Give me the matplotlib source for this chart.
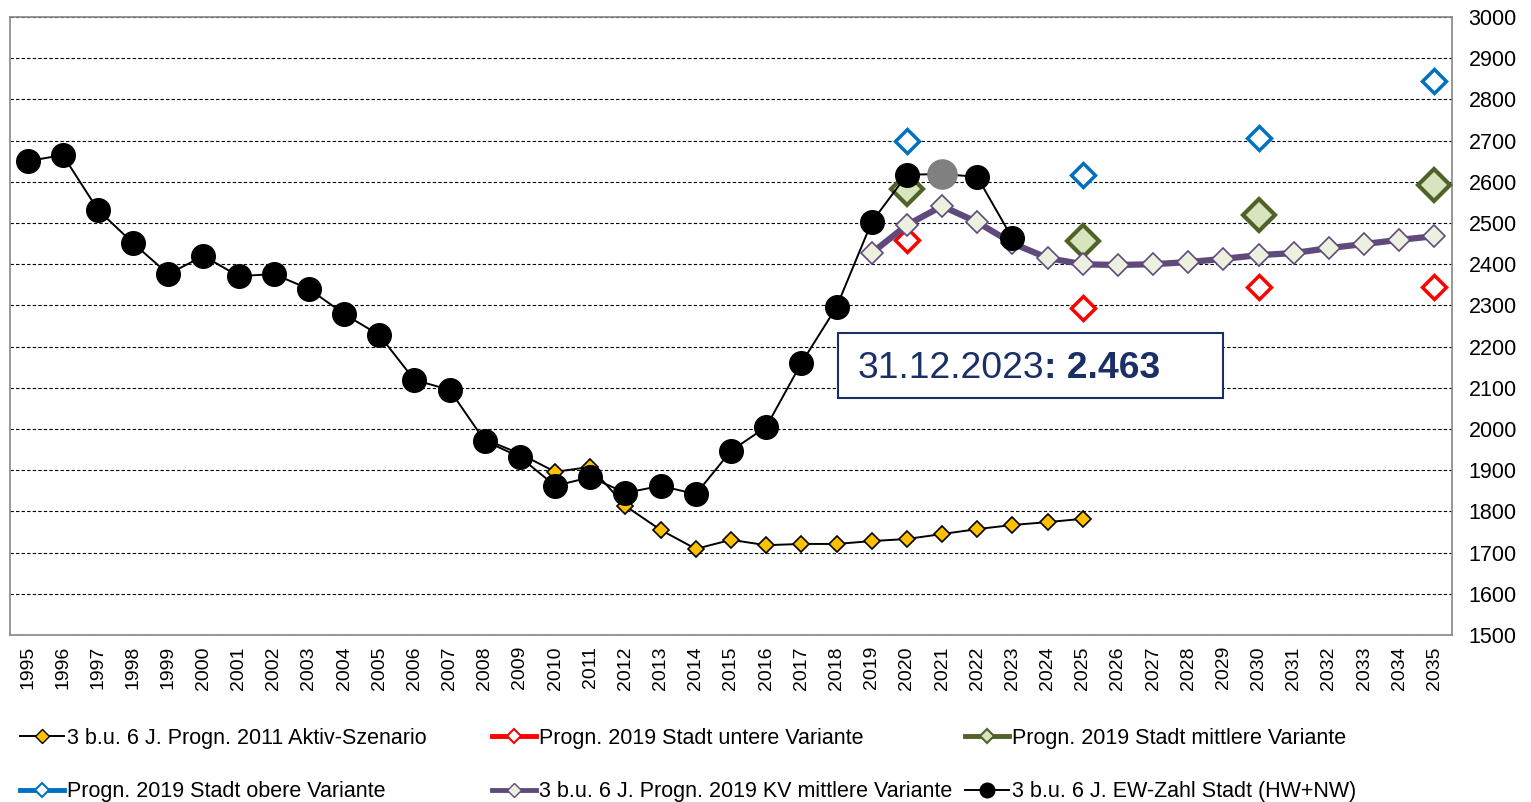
import matplotlib
matplotlib.use("Agg")
import matplotlib.pyplot as plt
from matplotlib.lines import Line2D
from matplotlib.patches import Rectangle

plt.rcParams['font.family'] = ['Liberation Sans', 'DejaVu Sans']

# --- data ---
years_all = list(range(1995, 2036))

ew_years = list(range(1995, 2024))
ew_stadt = [2650, 2665, 2532, 2451, 2376, 2420, 2371, 2376, 2340, 2279,
            2228, 2119, 2095, 1971, 1932, 1862, 1883, 1845, 1862, 1842,
            1947, 2005, 2160, 2296, 2502, 2617, 2619, 2612, 2463]
ew_gray_year = [2021]
ew_gray_val = [2619]

p2011_years = list(range(2008, 2026))
p2011_aktiv = [1975, 1940, 1896, 1908, 1813, 1755, 1709, 1731, 1718, 1721,
               1721, 1728, 1733, 1745, 1757, 1767, 1774, 1782]

kv_years = list(range(2019, 2036))
kv_mittel = [2427, 2495, 2541, 2502, 2451, 2415, 2400, 2398, 2400, 2405,
             2413, 2422, 2427, 2439, 2449, 2459, 2468]

stadt_years = [2020, 2025, 2030, 2035]
stadt_unten = [2459, 2294, 2345, 2345]
stadt_mitte = [2583, 2456, 2519, 2592]
stadt_oben = [2699, 2617, 2706, 2845]

labels = ['3 b.u. 6 J. Progn. 2011 Aktiv-Szenario',
          'Progn. 2019 Stadt untere Variante',
          'Progn. 2019 Stadt mittlere Variante',
          'Progn. 2019 Stadt obere Variante',
          '3 b.u. 6 J. Progn. 2019 KV mittlere Variante',
          '3 b.u. 6 J. EW-Zahl Stadt (HW+NW)']

C_YEL = '#FFC000'
C_RED = '#FF0000'
C_GRN = '#4F6228'
C_GRN_F = '#D7E4BD'
C_BLU = '#0070C0'
C_PUR = '#604A7B'
C_PUR_F = '#EBF1DE'
C_NAVY = '#1A2F66'

fig = plt.figure(figsize=(15.31, 8.02), dpi=100)
ax = fig.add_axes([10 / 1531, 1 - 635 / 802, 1442 / 1531, 618 / 802])

ax.plot(p2011_years, p2011_aktiv, color='black', lw=1.4, marker='D', ms=8,
        mfc=C_YEL, mec='black', mew=1.2, zorder=3)
ax.plot(stadt_years, stadt_unten, ls='none', marker='D', ms=12, mfc='white',
        mec=C_RED, mew=2.5, zorder=3)
ax.plot(stadt_years, stadt_mitte, ls='none', marker='D', ms=16, mfc=C_GRN_F,
        mec=C_GRN, mew=3, zorder=3)
ax.plot(stadt_years, stadt_oben, ls='none', marker='D', ms=12, mfc='white',
        mec=C_BLU, mew=2.5, zorder=3)
ax.plot(kv_years, kv_mittel, color=C_PUR, lw=4.5, marker='D', ms=11,
        mfc=C_PUR_F, mec=C_PUR, mew=1.2, zorder=4)
ax.plot(ew_years, ew_stadt, color='black', lw=1.4, marker='o', ms=17,
        mfc='black', mec='black', zorder=5)
ax.plot(ew_gray_year, ew_gray_val, ls='none', marker='o', ms=21,
        mfc='#808080', mec='#808080', zorder=6)

ax.set_xlim(1994.5, 2035.5)
ax.set_ylim(1500, 3000)
ax.set_xticks(years_all)
ax.set_xticklabels([str(y) for y in years_all], rotation=90, fontsize=14)
ax.set_yticks(range(1500, 3001, 100))
ax.yaxis.tick_right()
ax.tick_params(axis='y', length=0, pad=12, labelsize=15.5)
ax.tick_params(axis='x', length=0, pad=8)
ax.yaxis.grid(True, linestyle=(0, (3, 2)), color='black', lw=0.8)
ax.set_axisbelow(True)
for s in ax.spines.values():
    s.set_color('#868686')
    s.set_linewidth(1.2)

# annotation box
ax.add_patch(Rectangle((2018.05, 2075), 10.95, 158, fill=True, fc='white',
                       ec=C_NAVY, lw=1.5, zorder=7))
t1 = ax.text(2018.6, 2146, '31.12.2023', fontsize=26.8, color=C_NAVY,
             va='center', ha='left', zorder=8)
ax.annotate(': 2.463', xy=(1, 0), xycoords=t1, va='bottom', ha='left',
            fontsize=26.8, fontweight='bold', color=C_NAVY, zorder=8)

# legend
def proxy(color, lw, mfc, mec, marker='D', ms=7, mew=1.5):
    return Line2D([0], [0], color=color, lw=lw, marker=marker, ms=ms,
                  mfc=mfc, mec=mec, mew=mew)

handles = [proxy('black', 1.4, C_YEL, 'black', ms=7, mew=1.0),
           proxy(C_RED, 3.5, 'white', C_RED),
           proxy(C_GRN, 3.5, C_GRN_F, C_GRN),
           proxy(C_BLU, 3.5, 'white', C_BLU),
           proxy(C_PUR, 3.5, C_PUR_F, C_PUR, mew=1.0),
           proxy('black', 1.4, 'black', 'black', marker='o', ms=10)]

cols = [(0, 3, 20), (1, 4, 492), (2, 5, 965)]
for a, b, x in cols:
    leg = fig.legend([handles[a], handles[b]], [labels[a], labels[b]],
                     loc='upper left', bbox_to_anchor=(x / 1531, 1 - 728 / 802),
                     frameon=False, fontsize=15.5, borderpad=0, borderaxespad=0,
                     handlelength=2.05, handletextpad=0.15, labelspacing=1.5)

fig.savefig('out.png', dpi=100)
